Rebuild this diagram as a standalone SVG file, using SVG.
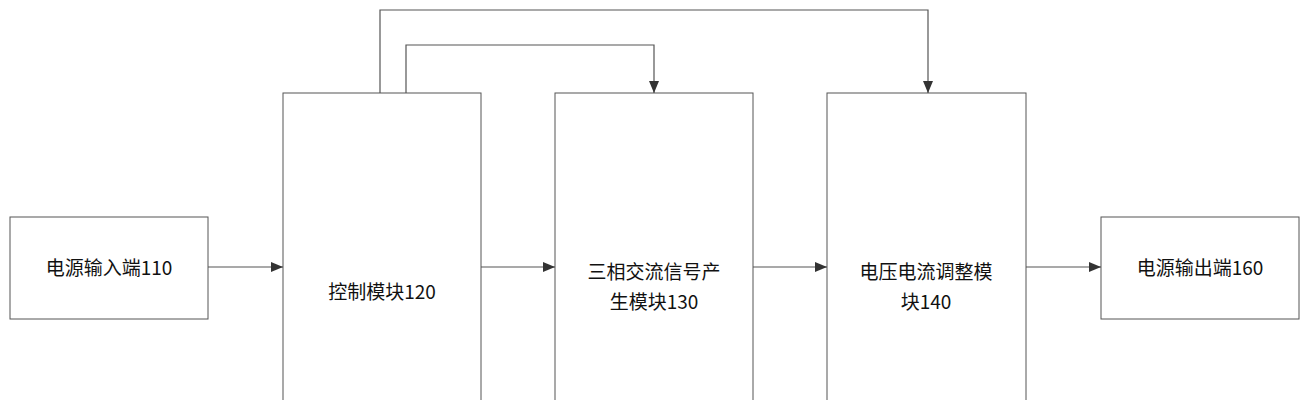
<svg xmlns="http://www.w3.org/2000/svg" width="1309" height="400" viewBox="0 0 1309 400">
<style>
.b{fill:#fff;stroke:#555;stroke-width:1}
.t{font-family:"Noto Sans CJK SC","Liberation Sans",sans-serif;font-size:19px;fill:#111;text-anchor:middle}
.c{fill:none;stroke:#555;stroke-width:1.2}
</style>
<defs><marker id="a" markerWidth="12" markerHeight="10" refX="12" refY="5" orient="auto" markerUnits="userSpaceOnUse"><path d="M0,0L12,5L0,10Z" fill="#333"/></marker></defs>
<rect width="1309" height="400" fill="#fff"/>
<g id="n110"><rect class="b" x="10" y="217" width="198" height="102"/><text class="t" x="109" y="275">电源输入端110</text></g>
<g id="n120"><rect class="b" x="283" y="93" width="198" height="320"/><text class="t" x="382" y="299">控制模块120</text></g>
<g id="n130"><rect class="b" x="555" y="93" width="198" height="320"/><text class="t" x="654" y="279">三相交流信号产</text><text class="t" x="654" y="309">生模块130</text></g>
<g id="n140"><rect class="b" x="827" y="93" width="199" height="320"/><text class="t" x="926" y="279">电压电流调整模</text><text class="t" x="926" y="309">块140</text></g>
<g id="n160"><rect class="b" x="1101" y="217" width="198" height="102"/><text class="t" x="1200" y="275">电源输出端160</text></g>
<g id="connectors">
<path class="c" d="M208,267H283" marker-end="url(#a)"/>
<path class="c" d="M481,267H555" marker-end="url(#a)"/>
<path class="c" d="M753,267H827" marker-end="url(#a)"/>
<path class="c" d="M1026,267H1101" marker-end="url(#a)"/>
<path class="c" d="M380,93V10H928V93" marker-end="url(#a)"/>
<path class="c" d="M406,93V45H654V93" marker-end="url(#a)"/>
</g>
</svg>
